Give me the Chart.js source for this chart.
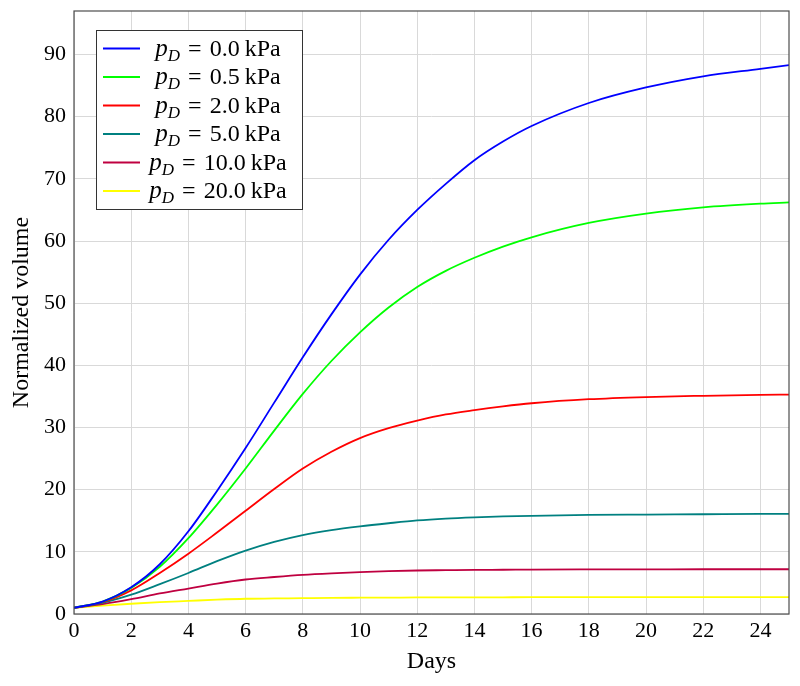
<!DOCTYPE html>
<html>
<head>
<meta charset="utf-8">
<script src="https://cdn.jsdelivr.net/npm/chart.js@4.4.1/dist/chart.umd.min.js"></script>
<style>
  html, body { margin: 0; padding: 0; background: #fff; }
  #wrap { width: 800px; height: 686px; }
</style>
</head>
<body>
<div id="wrap"><canvas id="chart" width="800" height="686"></canvas></div>
<script>
// days (every day where curves bend, then every 2)
const DAYS = [0, 1, 2, 3, 4, 5, 6, 7, 8, 9, 10, 11, 12, 13, 14, 15, 16, 18, 20, 22, 24, 25];

const PRESSURES = ['0.0', '0.5', '2.0', '5.0', '10.0', '20.0'];
const COLORS = ['#0000ff', '#00ff00', '#ff0000', '#008080', '#bf0040', '#ffff00'];

const VOL_0_0 = [1, 2.0, 4.3, 8.0, 13.3, 19.8, 26.7, 34.0, 41.3, 48.2, 54.6, 60.2, 65.0, 69.2, 73.0, 76.0, 78.5, 82.2, 84.7, 86.5, 87.7, 88.3];
const VOL_0_5 = [1, 2.0, 4.2, 7.6, 12.2, 17.6, 23.4, 29.5, 35.4, 40.7, 45.3, 49.3, 52.6, 55.2, 57.3, 59.1, 60.6, 62.9, 64.4, 65.4, 66.0, 66.2];
const VOL_2_0 = [1, 1.9, 3.8, 6.6, 9.7, 13.1, 16.6, 20.1, 23.4, 26.1, 28.3, 29.9, 31.1, 32.1, 32.8, 33.4, 33.9, 34.55, 34.9, 35.1, 35.25, 35.3];
const VOL_5_0 = [1, 1.8, 3.1, 4.8, 6.6, 8.5, 10.2, 11.6, 12.7, 13.5, 14.1, 14.6, 15.05, 15.35, 15.55, 15.7, 15.8, 15.95, 16.0, 16.05, 16.1, 16.1];
const VOL_10_0 = [1, 1.6, 2.4, 3.3, 4.1, 4.9, 5.55, 5.95, 6.3, 6.55, 6.75, 6.9, 7.0, 7.05, 7.1, 7.12, 7.15, 7.17, 7.18, 7.2, 7.2, 7.2];
const VOL_20_0 = [1, 1.35, 1.65, 1.9, 2.1, 2.3, 2.45, 2.5, 2.55, 2.6, 2.62, 2.64, 2.66, 2.67, 2.68, 2.69, 2.7, 2.7, 2.7, 2.7, 2.7, 2.7];

const SERIES = [VOL_0_0, VOL_0_5, VOL_2_0, VOL_5_0, VOL_10_0, VOL_20_0];

const X_MIN = 0, X_MAX = 25, X_STEP = 2;
const Y_MIN = 0, Y_MAX = 97, Y_STEP = 10;

const SERIF = '"Liberation Serif", "DejaVu Serif", serif';
const GRID = '#d9d9d9';
const FRAME = '#4d4d4d';

// legend and axis titles drawn the way pgfplots lays them out
const decorPlugin = {
  id: 'decor',
  afterDraw(chart) {
    const ctx = chart.ctx;
    const a = chart.chartArea;
    ctx.save();

    // full frame
    ctx.strokeStyle = FRAME;
    ctx.lineWidth = 1.2;
    ctx.strokeRect(a.left, a.top, a.right - a.left, a.bottom - a.top);

    // axis titles
    ctx.fillStyle = '#000';
    ctx.font = '24px ' + SERIF;
    ctx.textAlign = 'center';
    ctx.textBaseline = 'middle';
    ctx.fillText('Days', (a.left + a.right) / 2, 662);
    ctx.save();
    ctx.translate(22, (a.top + a.bottom) / 2);
    ctx.rotate(-Math.PI / 2);
    ctx.fillText('Normalized volume', 0, 0);
    ctx.restore();

    // legend box
    const bx = 96, by = 30, bw = 206, bh = 179;
    ctx.fillStyle = '#fff';
    ctx.fillRect(bx, by, bw, bh);
    ctx.strokeStyle = '#333';
    ctx.lineWidth = 1;
    ctx.strokeRect(bx + 0.5, by + 0.5, bw, bh);

    const fP = 'italic 25px ' + SERIF;
    const fD = 'italic 17px ' + SERIF;
    const fR = '24px ' + SERIF;
    chart.data.datasets.forEach((ds, i) => {
      const y = 48.5 + i * 28.5;
      ctx.strokeStyle = ds.borderColor;
      ctx.lineWidth = 2;
      ctx.beginPath();
      ctx.moveTo(103, y);
      ctx.lineTo(140, y);
      ctx.stroke();

      const parts = [
        [fP, 'p', 0, 0], [fD, 'D', 0, 5], [fR, '=', 8, 0],
        [fR, PRESSURES[i], 8, 0], [fR, 'kPa', 5, 0],
      ];
      let total = 0;
      parts.forEach((p) => { ctx.font = p[0]; p.push(ctx.measureText(p[1]).width); total += p[2] + p[4]; });
      let x = 218 - total / 2;
      ctx.fillStyle = '#000';
      ctx.textAlign = 'left';
      ctx.textBaseline = 'alphabetic';
      const base = y + 7;
      parts.forEach((p) => {
        x += p[2];
        ctx.font = p[0];
        ctx.fillText(p[1], x, base + p[3]);
        x += p[4];
      });
    });
    ctx.restore();
  }
};

const datasets = SERIES.map((vals, i) => ({
  label: 'p_D = ' + PRESSURES[i] + ' kPa',
  data: DAYS.map((d, j) => ({ x: d, y: vals[j] })),
  borderColor: COLORS[i],
  backgroundColor: COLORS[i],
  borderWidth: 1.8,
  pointRadius: 0,
  cubicInterpolationMode: 'monotone',
  fill: false,
}));

new Chart(document.getElementById('chart'), {
  type: 'line',
  data: { datasets },
  options: {
    responsive: false,
    animation: false,
    layout: { padding: { top: 11, right: 11, left: 0, bottom: 0 } },
    plugins: { legend: { display: false }, tooltip: { enabled: false } },
    scales: {
      x: {
        type: 'linear',
        min: X_MIN, max: X_MAX,
        afterFit: (s) => { s.height = 72; s.paddingLeft = 0; s.paddingRight = 0; },
        ticks: { stepSize: X_STEP, includeBounds: false, color: '#000', padding: 4, maxRotation: 0,
                 font: { family: SERIF, size: 22 } },
        grid: { color: GRID, lineWidth: 1, drawTicks: false },
        border: { display: false },
      },
      y: {
        min: Y_MIN, max: Y_MAX,
        afterFit: (s) => { s.width = 74; s.paddingTop = 0; s.paddingBottom = 0; },
        ticks: { stepSize: Y_STEP, includeBounds: false, color: '#000', padding: 8,
                 font: { family: SERIF, size: 22 } },
        grid: { color: GRID, lineWidth: 1, drawTicks: false },
        border: { display: false },
      },
    },
  },
  plugins: [decorPlugin],
});
</script>
</body>
</html>
